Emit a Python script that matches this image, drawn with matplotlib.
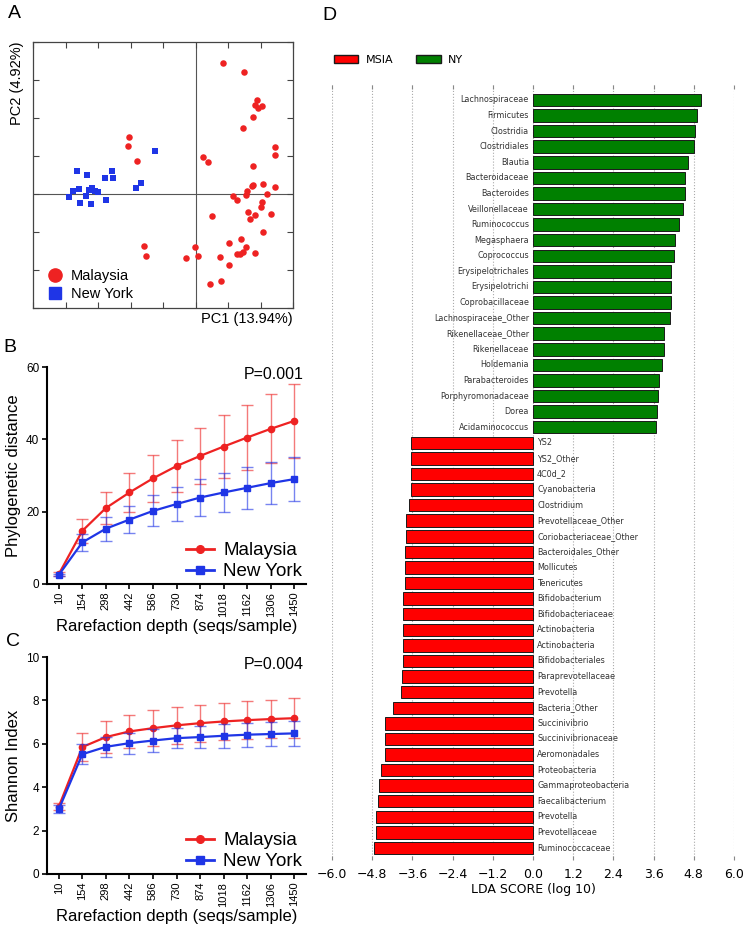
import matplotlib
matplotlib.use("Agg")
import matplotlib.pyplot as plt
from matplotlib.patches import Patch
from matplotlib.lines import Line2D
import numpy as np

RED = "#ee2222"
BLUE = "#1f35e6"
SANS = ["Liberation Sans", "DejaVu Sans"]

###########
# Panel A #
###########
pc1_msia = [0.85, 1.49, 1.88, 1.82, 1.92, 2.06, 1.76, 1.46, 2.46, 2.46, 0.24, 0.38, 1.77,
            -2.06, -2.07, -1.81, 1.77, 1.75, 2.09, 2.45, 1.59, 1.54, 1.15, 1.28, 2.21, 2.05,
            2.02, 1.60, 1.82, 1.67, 2.33, 0.50, 2.08, 1.41, 1.04, 1.56, -0.03, 1.45, 1.36,
            1.27, 1.82, 0.07, -0.28, 0.74, 1.02, 0.44, 0.77, -1.57, -1.51]
pc2_msia = [3.46, 3.21, 2.47, 2.34, 2.25, 2.32, 2.03, 1.73, 1.25, 1.02, 0.97, 0.83, 0.73,
            1.51, 1.27, 0.88, 0.24, 0.22, 0.26, 0.18, 0.08, -0.03, -0.04, -0.17, -0.01, -0.20,
            -0.35, -0.48, -0.54, -0.65, -0.52, -0.59, -1.01, -1.18, -1.29, -1.40, -1.40, -1.53, -1.57,
            -1.58, -1.55, -1.62, -1.69, -1.66, -1.88, -2.37, -2.28, -1.36, -1.62]
pc1_ny = [-1.26, -3.64, -3.35, -2.77, -2.56, -2.53, -1.69, -1.84, -3.77, -3.59,
          -3.18, -3.28, -3.10, -3.01, -3.88, -3.38, -2.74, -3.56, -3.21]
pc2_ny = [1.13, 0.60, 0.50, 0.41, 0.60, 0.42, 0.30, 0.16, 0.09, 0.12,
          0.17, 0.11, 0.07, 0.04, -0.07, -0.06, -0.16, -0.24, -0.25]

################
# Panels B & C #
################
depths = ["10", "154", "298", "442", "586", "730", "874", "1018", "1162", "1306", "1450"]
pd_msia = [2.7, 14.7, 21.0, 25.3, 29.2, 32.6, 35.4, 38.0, 40.5, 42.9, 45.1]
pd_msia_err = [0.5, 3.3, 4.3, 5.5, 6.4, 7.1, 7.7, 8.6, 9.1, 9.5, 10.2]
pd_ny = [2.5, 11.5, 15.3, 17.8, 20.2, 22.1, 23.9, 25.3, 26.6, 27.9, 29.0]
pd_ny_err = [0.4, 2.3, 3.3, 3.8, 4.3, 4.8, 5.1, 5.5, 5.8, 5.8, 6.0]

sh_msia = [3.1, 5.85, 6.31, 6.57, 6.72, 6.85, 6.95, 7.03, 7.09, 7.14, 7.18]
sh_msia_err = [0.15, 0.64, 0.74, 0.75, 0.82, 0.84, 0.85, 0.86, 0.86, 0.89, 0.91]
sh_ny = [2.98, 5.52, 5.86, 6.03, 6.15, 6.26, 6.31, 6.37, 6.42, 6.45, 6.48]
sh_ny_err = [0.18, 0.45, 0.46, 0.49, 0.51, 0.45, 0.52, 0.55, 0.55, 0.56, 0.57]

###########
# Panel D #
###########
lda_taxa = ["Lachnospiraceae", "Firmicutes", "Clostridia", "Clostridiales", "Blautia",
            "Bacteroidaceae", "Bacteroides", "Veillonellaceae", "Ruminococcus", "Megasphaera",
            "Coprococcus", "Erysipelotrichales", "Erysipelotrichi", "Coprobacillaceae",
            "Lachnospiraceae_Other", "Rikenellaceae_Other", "Rikenellaceae", "Holdemania",
            "Parabacteroides", "Porphyromonadaceae", "Dorea", "Acidaminococcus",
            "YS2", "YS2_Other", "4C0d_2", "Cyanobacteria", "Clostridium", "Prevotellaceae_Other",
            "Coriobacteriaceae_Other", "Bacteroidales_Other", "Mollicutes", "Tenericutes",
            "Bifidobacterium", "Bifidobacteriaceae", "Actinobacteria", "Actinobacteria",
            "Bifidobacteriales", "Paraprevotellaceae", "Prevotella", "Bacteria_Other",
            "Succinivibrio", "Succinivibrionaceae", "Aeromonadales", "Proteobacteria",
            "Gammaproteobacteria", "Faecalibacterium", "Prevotella", "Prevotellaceae",
            "Ruminococcaceae"]
lda_score = [5.00, 4.90, 4.84, 4.82, 4.63, 4.55, 4.55, 4.47, 4.37, 4.25, 4.21, 4.12, 4.12,
             4.12, 4.10, 3.92, 3.92, 3.84, 3.77, 3.74, 3.70, 3.66,
             -3.63, -3.63, -3.63, -3.63, -3.69, -3.78, -3.80, -3.82, -3.82, -3.82,
             -3.87, -3.87, -3.87, -3.87, -3.87, -3.90, -3.94, -4.19, -4.42, -4.42, -4.42,
             -4.54, -4.59, -4.64, -4.68, -4.68, -4.74]
lda_ticks = [-6.0, -4.8, -3.6, -2.4, -1.2, 0.0, 1.2, 2.4, 3.6, 4.8, 6.0]

W, H = 748, 926
fig = plt.figure(figsize=[W / 100, H / 100], dpi=100)

def box(l, t, r, b):
	return [l / W, 1 - b / H, (r - l) / W, (b - t) / H]

# A
ax = fig.add_axes(box(33, 42, 293, 308))
ax.axhline(0, color="#555555", lw=0.8, zorder=1)
ax.axvline(0, color="#555555", lw=0.8, zorder=1)
ax.scatter(pc1_msia, pc2_msia, s=22, c=RED, marker="o", linewidths=0, zorder=3)
ax.scatter(pc1_ny, pc2_ny, s=22, c=BLUE, marker="s", linewidths=0, zorder=3)
ax.set_xlim(-5, 3)
ax.set_ylim(-3, 4)
ax.set_xticks(range(-5, 4))
ax.set_yticks(range(-3, 5))
ax.tick_params(direction="in", top=True, right=True, length=4, width=0.8, color="#444444",
	labelbottom=False, labelleft=False)
for s in ax.spines.values():
	s.set_color("#444444")
	s.set_linewidth(0.9)
hA = [Line2D([], [], marker="o", ls="", color=RED, ms=9.5, label="Malaysia"),
	Line2D([], [], marker="s", ls="", color=BLUE, ms=8.5, label="New York")]
ax.legend(handles=hA, loc="lower left", frameon=False, prop={"family": SANS, "size": 10.5},
	handletextpad=0.1, borderaxespad=0.2, labelspacing=0.25, borderpad=0.3)
ax.text(1.0, -0.015, "PC1 (13.94%)", transform=ax.transAxes, ha="right", va="top",
	fontsize=10.5, family=SANS)
ax.text(-0.035, 1.0, "PC2 (4.92%)", transform=ax.transAxes, ha="right", va="top",
	rotation=90, fontsize=10.5, family=SANS)

# B and C
x = np.arange(len(depths))
def rare_panel(rect, m, me, n, ne, ylim, yticks, ylabel, ptext):
	ax = fig.add_axes(rect)
	ax.errorbar(x, m, yerr=me, color=RED, marker="o", ms=4.5, lw=1.6,
		elinewidth=1.0, ecolor=(0.93, 0.13, 0.13, 0.6), capsize=4, capthick=1.0, zorder=3)
	ax.errorbar(x, n, yerr=ne, color=BLUE, marker="s", ms=4.5, lw=1.6,
		elinewidth=1.0, ecolor=(0.12, 0.2, 0.9, 0.6), capsize=4, capthick=1.0, zorder=4)
	ax.set_xlim(-0.5, 10.5)
	ax.set_ylim(*ylim)
	ax.set_yticks(yticks)
	ax.set_xticks(x)
	ax.set_xticklabels(depths, rotation=90, fontsize=8, family=SANS)
	for lab in ax.get_yticklabels():
		lab.set_family(SANS)
		lab.set_fontsize(8.5)
	for s in ["top", "right"]:
		ax.spines[s].set_visible(False)
	for s in ["left", "bottom"]:
		ax.spines[s].set_linewidth(1.5)
	ax.tick_params(direction="out", length=3.5, width=1.2, pad=2)
	ax.set_ylabel(ylabel, fontsize=12, family=SANS, labelpad=4)
	ax.set_xlabel("Rarefaction depth (seqs/sample)", fontsize=12, family=SANS, labelpad=2)
	ax.text(0.99, 1.0, ptext, transform=ax.transAxes, ha="right", va="top",
		fontsize=11.5, family=SANS)
	h = [Line2D([], [], color=RED, marker="o", ms=5.5, lw=2, label="Malaysia"),
		Line2D([], [], color=BLUE, marker="s", ms=5.5, lw=2, label="New York")]
	ax.legend(handles=h, loc="lower right", frameon=False, prop={"family": SANS, "size": 13.5},
		handlelength=1.5, handletextpad=0.5, labelspacing=0.2, borderaxespad=0.0, borderpad=0.2)
	return ax

rare_panel(box(47, 367, 306, 584), pd_msia, pd_msia_err, pd_ny, pd_ny_err,
	(0, 60), [0, 20, 40, 60], "Phylogenetic distance", "P=0.001")
rare_panel(box(47, 657, 306, 874), sh_msia, sh_msia_err, sh_ny, sh_ny_err,
	(0, 10), [0, 2, 4, 6, 8, 10], "Shannon Index", "P=0.004")

# D
ax = fig.add_axes(box(332, 85, 734, 860))
y = np.arange(len(lda_taxa))
cols = ["#ff0000" if s < 0 else "#008000" for s in lda_score]
ax.barh(y, lda_score, height=0.8, color=cols, edgecolor="#1a1a1a", linewidth=0.7, zorder=3)
for i in range(len(lda_taxa)):
	if lda_score[i] > 0:
		ax.text(-0.12, y[i], lda_taxa[i], ha="right", va="center", fontsize=5.8,
			color="#333333", zorder=4)
	else:
		ax.text(0.12, y[i], lda_taxa[i], ha="left", va="center", fontsize=5.8,
			color="#333333", zorder=4)
ax.set_ylim(len(lda_taxa) - 0.23, -0.96)
ax.set_xlim(-6, 6)
ax.set_xticks(lda_ticks)
ax.set_xticklabels(["{:.1f}".format(v).replace("-", "\u2212") for v in lda_ticks], fontsize=9)
ax.set_yticks([])
ax.xaxis.grid(True, linestyle=":", color="#aaaaaa", lw=0.8, zorder=0)
for s in ax.spines.values():
	s.set_visible(False)
ax.tick_params(axis="x", direction="in", length=3, color="#888888", top=True, pad=6)
ax.set_xlabel("LDA SCORE (log 10)", fontsize=9, labelpad=1)
fig.legend(handles=[Patch(fc="#ff0000", ec="#1a1a1a", label="MSIA"),
	Patch(fc="#008000", ec="#1a1a1a", label="NY")],
	loc="center left", bbox_to_anchor=(334 / W, 1 - 60 / H), ncol=2, frameon=False,
	fontsize=8, handlelength=2.2, handleheight=0.7, columnspacing=2.0,
	handletextpad=0.7, borderpad=0, borderaxespad=0)

# Panel letters
fig.text(8 / W, 1 - 14 / H, "A", fontsize=14, family=SANS, va="center")
fig.text(3 / W, 1 - 348 / H, "B", fontsize=14, family=SANS, va="center")
fig.text(6 / W, 1 - 642 / H, "C", fontsize=14, family=SANS, va="center")
fig.text(322 / W, 1 - 15 / H, "D", fontsize=14, family=SANS, va="center")

plt.savefig("out.png", dpi=100)
